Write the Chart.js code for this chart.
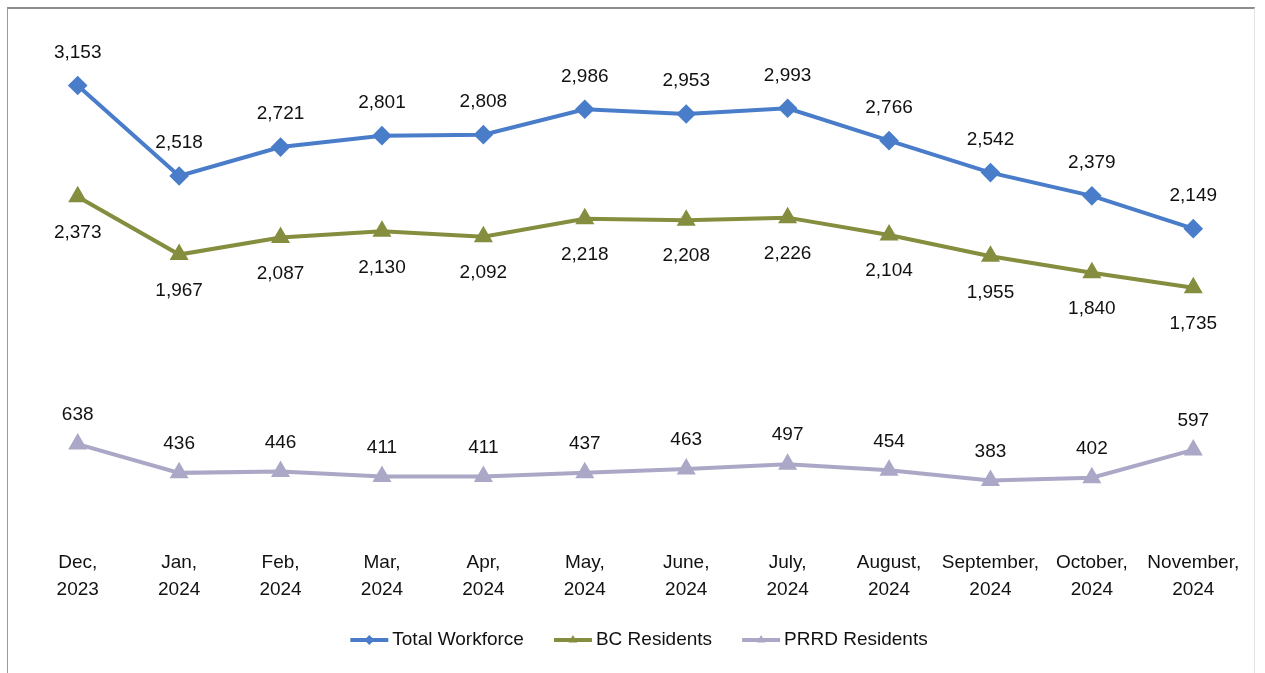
<!DOCTYPE html>
<html>
<head>
<meta charset="utf-8">
<script src="https://cdn.jsdelivr.net/npm/chart.js@4"></script>
<style>
  html, body { margin: 0; padding: 0; background: #fff; }
  #wrap { position: relative; width: 1265px; height: 673px; }
  #frame {
    position: absolute; left: 7px; top: 7px; width: 1248px; height: 670px;
    border-top: 2px solid #8c8c8c; border-left: 1px solid #9a9a9a; border-right: 1px solid #e4e4e4;
    box-sizing: border-box; pointer-events: none;
  }
</style>
</head>
<body>
<div id="wrap">
  <canvas id="workforceChart" width="1265" height="673"></canvas>
  <div id="frame"></div>
</div>
<script>
const months = [
  ['Dec,', '2023'], ['Jan,', '2024'], ['Feb,', '2024'], ['Mar,', '2024'],
  ['Apr,', '2024'], ['May,', '2024'], ['June,', '2024'], ['July,', '2024'],
  ['August,', '2024'], ['September,', '2024'], ['October,', '2024'], ['November,', '2024']
];
const totalWorkforce = [3153, 2518, 2721, 2801, 2808, 2986, 2953, 2993, 2766, 2542, 2379, 2149];
const bcResidents = [2373, 1967, 2087, 2130, 2092, 2218, 2208, 2226, 2104, 1955, 1840, 1735];
const prrdResidents = [638, 436, 446, 411, 411, 437, 463, 497, 454, 383, 402, 597];

const FAMILY = '"Liberation Sans", Arial, sans-serif';
const FONT = '19px ' + FAMILY;

// value labels next to each point
const valueLabels = {
  id: 'valueLabels',
  afterDatasetsDraw(chart) {
    const ctx = chart.ctx;
    const offsets = [-33, 36, -29];
    ctx.save();
    ctx.font = FONT;
    ctx.fillStyle = '#111';
    ctx.textAlign = 'center';
    ctx.textBaseline = 'middle';
    chart.data.datasets.forEach(function(ds, i) {
      chart.getDatasetMeta(i).data.forEach(function(pt, j) {
        ctx.fillText(ds.data[j].toLocaleString('en-US'), pt.x, pt.y + offsets[i]);
      });
    });
    ctx.restore();
  }
};

// legend with line + marker, like the original
const lineLegend = {
  id: 'lineLegend',
  afterDraw(chart) {
    const ctx = chart.ctx;
    const y = 640, lineLen = 38, textGap = 4, itemGap = 30;
    ctx.save();
    ctx.font = FONT;
    const items = chart.data.datasets.map(function(ds) {
      return { ds: ds, w: lineLen + textGap + ctx.measureText(ds.label).width };
    });
    let total = items.reduce(function(s, it) { return s + it.w; }, 0) + itemGap * (items.length - 1);
    let x = 639 - total / 2;
    items.forEach(function(it) {
      ctx.strokeStyle = it.ds.borderColor;
      ctx.lineWidth = 4;
      ctx.beginPath();
      ctx.moveTo(x, y);
      ctx.lineTo(x + lineLen, y);
      ctx.stroke();
      ctx.fillStyle = it.ds.borderColor;
      Chart.helpers.drawPoint(ctx, {
        pointStyle: it.ds.pointStyle, radius: 5, rotation: 0, borderWidth: 0
      }, x + lineLen / 2, y);
      ctx.fillStyle = '#111';
      ctx.textAlign = 'left';
      ctx.textBaseline = 'middle';
      ctx.fillText(it.ds.label, x + lineLen + textGap, y);
      x += it.w + itemGap;
    });
    ctx.restore();
  }
};

new Chart(document.getElementById('workforceChart').getContext('2d'), {
  type: 'line',
  data: {
    labels: months,
    datasets: [{
      label: 'Total Workforce',
      data: totalWorkforce,
      borderColor: '#4a7dc9',
      backgroundColor: '#4a7dc9',
      borderWidth: 4,
      pointStyle: 'rectRot',
      pointRadius: 7,
      tension: 0
    }, {
      label: 'BC Residents',
      data: bcResidents,
      borderColor: '#858d3e',
      backgroundColor: '#858d3e',
      borderWidth: 4,
      pointStyle: 'triangle',
      pointRadius: 7,
      tension: 0
    }, {
      label: 'PRRD Residents',
      data: prrdResidents,
      borderColor: '#aaa8c6',
      backgroundColor: '#aaa8c6',
      borderWidth: 4,
      pointStyle: 'triangle',
      pointRadius: 7,
      tension: 0
    }]
  },
  options: {
    responsive: false,
    animation: false,
    layout: { padding: { left: 27, right: 21, top: 36, bottom: 56 } },
    plugins: {
      legend: { display: false },
      tooltip: { enabled: false }
    },
    scales: {
      x: {
        offset: true,
        grid: { display: false, drawTicks: false },
        border: { display: false },
        ticks: {
          autoSkip: false,
          maxRotation: 0,
          padding: 14,
          color: '#111',
          font: { family: FAMILY, size: 19, lineHeight: 1.42 }
        }
      },
      y: {
        display: false,
        min: 0,
        max: 3500
      }
    }
  },
  plugins: [valueLabels, lineLegend]
});
</script>
</body>
</html>
